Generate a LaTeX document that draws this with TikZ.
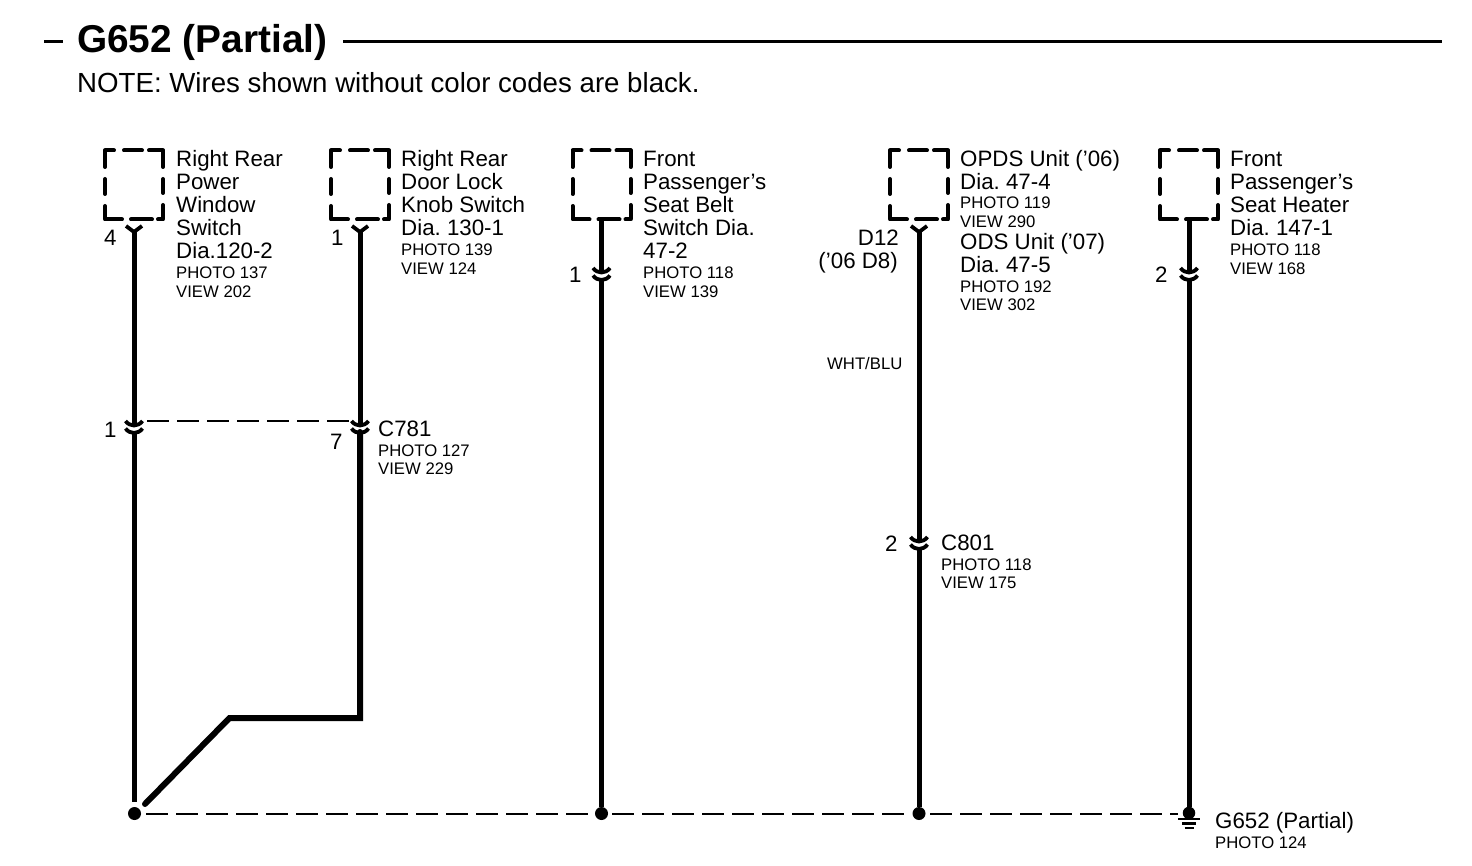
\documentclass[tikz,border=0pt]{standalone}
\usepackage{fontspec}
\setmainfont{Liberation Sans}
\frenchspacing
\tikzset{
  bigtxt/.style={inner sep=0pt,anchor=base west,yshift=-1pt,font=\fontsize{22.3}{23}\selectfont\frenchspacing},
  smalltxt/.style={inner sep=0pt,anchor=base west,yshift=-1pt,font=\fontsize{16.7}{18}\selectfont\frenchspacing},
  bigright/.style={bigtxt,anchor=base east},
  titletxt/.style={inner sep=0pt,anchor=base west,yshift=-1pt,font=\fontsize{38.8}{40}\selectfont\bfseries},
  notetxt/.style={inner sep=0pt,anchor=base west,yshift=-1pt,font=\fontsize{27.65}{30}\selectfont\frenchspacing},
  wire/.style={line width=5pt},
  thickwire/.style={line width=6pt,line cap=round,line join=miter},
  boxline/.style={line width=4pt,line join=round,line cap=round},
  pinline/.style={line width=3.8pt,line join=round},
  shield/.style={line width=2pt,dash pattern=on 22pt off 8pt},
  rule/.style={line width=3pt},
  dotnode/.style={circle,fill=black,inner sep=0pt,minimum size=13pt},
  boxnode/.style={inner sep=0pt,minimum width=59pt,minimum height=70pt},
}
% dashed component box, centred on x, and the Y-shaped pin under it
\newcommand{\compbox}[2]{%
  \node[boxnode] (#1) at (#2,185) {};
  \begin{scope}[shift={(#2,0)}]
    \draw[boxline] (-29,167)--(-29,150.5)--(-20,150.5);
    \draw[boxline] (-10,150.5)--(8,150.5);
    \draw[boxline] (15,150.5)--(29,150.5)--(29,167);
    \draw[boxline] (29,179)--(29,193);
    \draw[boxline] (29,205)--(29,219.5)--(24,219.5);
    \draw[boxline] (18,219.5)--(-3,219.5);
    \draw[boxline] (-12,219.5)--(-29,219.5)--(-29,206);
    \draw[boxline] (-29,179)--(-29,194);
  \end{scope}}
\newcommand{\ypin}[2]{%
  \coordinate (#1) at (#2,232);
  \draw[pinline] (#2-8,226)--(#1)--(#2+8,226);}
% inline connector: two stacked chevrons; coordinates #1a (upper) #1b (lower)
\newcommand{\chev}[3]{%
  \coordinate (#1a) at (#2,#3+4);
  \coordinate (#1b) at (#2,#3+11);
  \draw[pinline] (#2-8.5,#3) .. controls (#2-4,#3+6) and (#2+4,#3+6) .. (#2+8.5,#3);
  \draw[pinline] (#2-8.5,#3+7.5) .. controls (#2-4,#3+13.5) and (#2+4,#3+13.5) .. (#2+8.5,#3+7.5);}
\begin{document}
\begin{tikzpicture}[x=1pt,y=-1pt]
\useasboundingbox (0,0) rectangle (1472,866);
% heading
\node[titletxt] (title) at (77,52) {G652 (Partial)};
\coordinate (ruleA) at (44,41.5);
\coordinate (ruleB) at (63,41.5);
\coordinate (ruleC) at (343,41.5);
\coordinate (ruleD) at (1442,41.5);
\draw[rule] (ruleA)--(ruleB);
\draw[rule] (ruleC)--(ruleD);
\node[notetxt] (note) at (77,92) {NOTE: Wires shown without color codes are black.};
% component boxes
\compbox{boxA}{134}
\compbox{boxB}{360}
\compbox{boxC}{601.5}
\compbox{boxD}{919}
\compbox{boxE}{1189}
% pins
\ypin{pinA}{134}
\ypin{pinB}{360}
\ypin{pinD}{919}
\chev{conA}{134}{421}
\chev{conB}{360}{421}
\chev{conC}{601.5}{268}
\chev{conD}{919}{537}
\chev{conE}{1189}{268}
% bottom bus
\node[dotnode] (dotA) at (134.5,813.5) {};
\node[dotnode] (dotC) at (601.5,813.5) {};
\node[dotnode] (dotD) at (919,813.5) {};
\node[circle,fill=black,inner sep=0pt,minimum size=12.5pt] (gnd) at (1189,813) {};
\coordinate (gndA) at (1178,819);
\coordinate (gndB) at (1200,819);
\coordinate (gndC) at (1182,823.5);
\coordinate (gndD) at (1196,823.5);
\coordinate (gndE) at (1184.5,828);
\coordinate (gndF) at (1193.5,828);
\draw[line width=2.8pt] (gndA)--(gndB) (gndC)--(gndD) (gndE)--(gndF);
\coordinate (busStart) at (146,813.5);
\coordinate (busA) at (591,813.5);
\coordinate (busB) at (612,813.5);
\coordinate (busC) at (908,813.5);
\coordinate (busD) at (930,813.5);
\coordinate (busEnd) at (1178,813.5);
\draw[shield] (busStart)--(busA);
\draw[shield] (busB)--(busC);
\draw[shield] (busD)--(busEnd);
\coordinate (shA) at (147,421);
\coordinate (shB) at (351,421);
\draw[shield] (shA)--(shB);
% wires
\coordinate (wireAend) at (134,802);
\coordinate (diagA) at (145,804);
\coordinate (diagB) at (229.5,718);
\coordinate (diagC) at (360,718);
\draw[wire] (pinA)--(conAa);
\draw[wire] (conAb)--(wireAend);
\draw[wire] (pinB)--(conBa);
\draw[thickwire] (conBb)--(diagC)--(diagB)--(diagA);
\draw[wire] (boxC.south)--(conCa);
\draw[wire] (conCb)--(dotC);
\draw[wire] (pinD)--(conDa);
\draw[wire] (conDb)--(dotD);
\draw[wire] (boxE.south)--(conEa);
\draw[wire] (conEb)--(gnd);
% column A
\node[bigtxt] (a1) at (176,166) {Right Rear};
\node[bigtxt] (a2) at (176,189) {Power};
\node[bigtxt] (a3) at (176,212) {Window};
\node[bigtxt] (a4) at (176,235) {Switch};
\node[bigtxt] (a5) at (176,258) {Dia.120-2};
\node[smalltxt] (a6) at (176,278) {PHOTO 137};
\node[smalltxt] (a7) at (176,297) {VIEW 202};
\node[bigtxt] (pa) at (104,245) {4};
\node[bigtxt] (pa2) at (104,436) {1};
% column B
\node[bigtxt] (b1) at (401,166) {Right Rear};
\node[bigtxt] (b2) at (401,189) {Door Lock};
\node[bigtxt] (b3) at (401,212) {Knob Switch};
\node[bigtxt] (b4) at (401,235) {Dia. 130-1};
\node[smalltxt] (b5) at (401,255) {PHOTO 139};
\node[smalltxt] (b6) at (401,274) {VIEW 124};
\node[bigtxt] (pb) at (331,245) {1};
\node[bigtxt] (pb2) at (330,448) {7};
\node[bigtxt] (c781) at (378,435) {C781};
\node[smalltxt] (c781a) at (378,455) {PHOTO 127};
\node[smalltxt] (c781b) at (378,473) {VIEW 229};
% column C
\node[bigtxt] (c1) at (643,166) {Front};
\node[bigtxt] (c2) at (643,189) {Passenger’s};
\node[bigtxt] (c3) at (643,212) {Seat Belt};
\node[bigtxt] (c4) at (643,235) {Switch Dia.};
\node[bigtxt] (c5) at (643,258) {47-2};
\node[smalltxt] (c6) at (643,278) {PHOTO 118};
\node[smalltxt] (c7) at (643,297) {VIEW 139};
\node[bigtxt] (pc) at (569,282) {1};
% column D
\node[bigtxt] (d1) at (960,166) {OPDS Unit (’06)};
\node[bigtxt] (d2) at (960,189) {Dia. 47-4};
\node[smalltxt] (d3) at (960,208) {PHOTO 119};
\node[smalltxt] (d4) at (960,227) {VIEW 290};
\node[bigtxt] (d5) at (960,249) {ODS Unit (’07)};
\node[bigtxt] (d6) at (960,272) {Dia. 47-5};
\node[smalltxt] (d7) at (960,292) {PHOTO 192};
\node[smalltxt] (d8) at (960,310) {VIEW 302};
\node[bigright] (pd1) at (899,245) {D12};
\node[bigright] (pd2) at (898,268) {(’06 D8)};
\node[smalltxt] (wht) at (827,369) {WHT/BLU};
\node[bigtxt] (pd3) at (885,550) {2};
\node[bigtxt] (c801) at (941,549) {C801};
\node[smalltxt] (c801a) at (941,569) {PHOTO 118};
\node[smalltxt] (c801b) at (941,587) {VIEW 175};
% column E
\node[bigtxt] (e1) at (1230,166) {Front};
\node[bigtxt] (e2) at (1230,189) {Passenger’s};
\node[bigtxt] (e3) at (1230,212) {Seat Heater};
\node[bigtxt] (e4) at (1230,235) {Dia. 147-1};
\node[smalltxt] (e5) at (1230,255) {PHOTO 118};
\node[smalltxt] (e6) at (1230,274) {VIEW 168};
\node[bigtxt] (pe) at (1155,282) {2};
\node[bigtxt] (g1) at (1215,827) {G652 (Partial)};
\node[smalltxt] (g2) at (1215,847) {PHOTO 124};
\end{tikzpicture}
\end{document}
